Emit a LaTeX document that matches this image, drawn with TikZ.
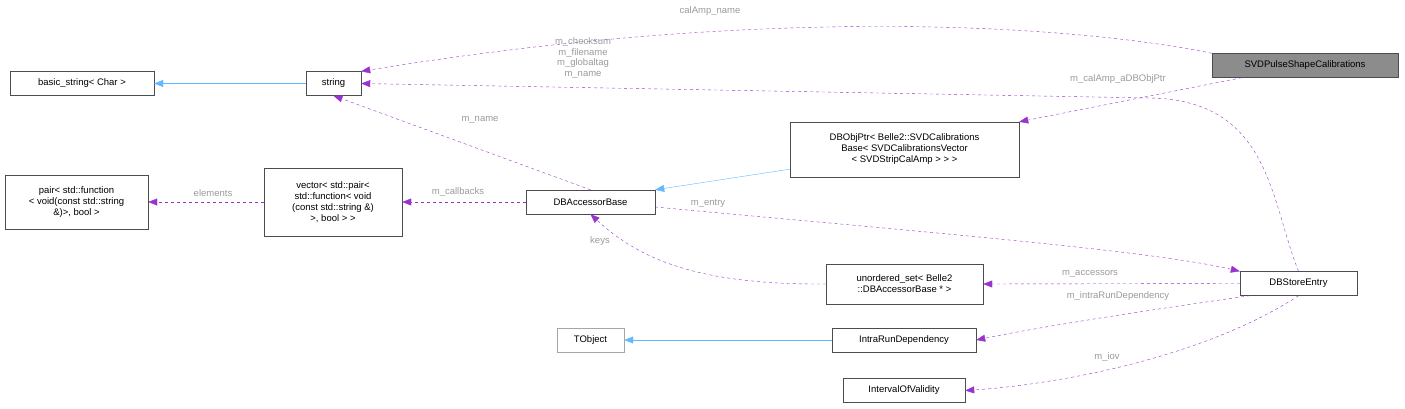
\documentclass[tikz,border=0pt]{standalone}
\usepackage{fontspec}
\setmainfont{Liberation Sans}
\usetikzlibrary{arrows.meta}
\definecolor{edgep}{HTML}{9A32CD}
\definecolor{edgeb}{HTML}{63B8FF}
\definecolor{lbl}{HTML}{9A9A9A}
\begin{document}
\begin{tikzpicture}[x=1pt,y=-1pt,
  box/.style={draw=black!70,fill=white,font=\fontsize{9.5}{11}\selectfont,align=center,inner sep=2pt,minimum height=24pt},
  use/.style={draw=edgep,dashed,-{Triangle[length=9pt,width=7pt]},fill=none},
  inh/.style={draw=edgeb,-{Triangle[length=9pt,width=7pt,fill=edgeb]}},
  lab/.style={text=lbl,font=\fontsize{9.5}{10.5}\selectfont,align=center,inner sep=1pt}]
\useasboundingbox (0,0) rectangle (1405,409);
\tikzset{>={Triangle}}
\node[box,fill=black!45,minimum width=186pt] (svd) at (1305,65.5) {SVDPulseShapeCalibrations};
\node[box,minimum width=144pt] (bs) at (82,83.5) {basic\_string< Char >};
\node[box,minimum width=55pt] (str) at (333.5,83.5) {string};
\node[box,minimum width=143pt,minimum height=54pt] (pair) at (76.5,202) {pair< std::function\\< void(const std::string\\\&)>, bool >};
\node[box,minimum width=138pt,minimum height=68pt] (vec) at (333,202) {vector< std::pair<\\ std::function< void\\(const std::string \&)\\>, bool > >};
\node[box,minimum width=129pt] (dba) at (590.5,202) {DBAccessorBase};
\node[box,minimum width=229pt,minimum height=55pt] (ptr) at (904.5,149.5) {DBObjPtr< Belle2::SVDCalibrations\\Base< SVDCalibrationsVector\\ < SVDStripCalAmp > > >};
\node[box,minimum width=157pt,minimum height=40pt] (us) at (904.5,284) {unordered\_set< Belle2\\::DBAccessorBase * >};
\node[box,minimum width=117pt] (dse) at (1298.5,283.5) {DBStoreEntry};
\node[box,draw=black!35,minimum width=67pt] (tob) at (590.5,340) {TObject};
\node[box,minimum width=144pt] (ird) at (904,340) {IntraRunDependency};
\node[box,minimum width=122pt] (iov) at (904,390.5) {IntervalOfValidity};
% edges
\draw[use,-{Triangle[length=9pt,width=7pt,fill=edgep]}] (svd.north west) .. controls (1100,30) and (800,0) .. (str.north east);
\node[lab] (l1) at (710,11) {calAmp\_name};
\draw[use,-{Triangle[length=9pt,width=7pt,fill=edgep]}] (dse.north) .. controls (1270,200) and (1270,100) .. (1150,98) -- (str.east);
\node[lab,font=\fontsize{9.5}{10.5}\selectfont] (l2) at (583,58) {m\_checksum\\m\_filename\\m\_globaltag\\m\_name};
\draw[use,-{Triangle[length=9pt,width=7pt,fill=edgep]}] (svd.south west) ++(30,0) -- (ptr.north east);
\node[lab] (l3) at (1118,79) {m\_calAmp\_aDBObjPtr};
\draw[inh] (ptr.south west) ++(0,-8) -- (dba.north east);
\draw[inh] (str.west) -- (bs.east);
\draw[use,-{Triangle[length=9pt,width=7pt,fill=edgep]}] (dba.north) -- (str.south);
\node[lab] (l4) at (480,120) {m\_name};
\draw[use,-{Triangle[length=9pt,width=7pt,fill=edgep]}] (vec.west) -- (pair.east);
\node[lab] (l5) at (213,193) {elements};
\draw[use,-{Triangle[length=9pt,width=7pt,fill=edgep]}] (dba.west) -- (vec.east);
\node[lab] (l6) at (458,192) {m\_callbacks};
\draw[use,-{Triangle[length=9pt,width=7pt,fill=edgep]}] (dba.east) ++(0,5) .. controls (900,230) and (1150,250) .. (dse.north west);
\node[lab] (l7) at (708,203) {m\_entry};
\draw[use,-{Triangle[length=9pt,width=7pt,fill=edgep]}] (us.west) .. controls (700,285) and (640,260) .. (dba.south);
\node[lab] (l8) at (600,241) {keys};
\draw[use,-{Triangle[length=9pt,width=7pt,fill=edgep]}] (dse.west) -- (us.east);
\node[lab] (l9) at (1090,274) {m\_accessors};
\draw[use,-{Triangle[length=9pt,width=7pt,fill=edgep]}] (dse.south west) ++(10,0) .. controls (1150,310) and (1050,325) .. (ird.east);
\node[lab] (l10) at (1118,296) {m\_intraRunDependency};
\draw[use,-{Triangle[length=9pt,width=7pt,fill=edgep]}] (dse.south) .. controls (1200,360) and (1050,385) .. (iov.east);
\node[lab] (l11) at (1107,357) {m\_iov};
\draw[inh] (ird.west) -- (tob.east);
\end{tikzpicture}
\end{document}
